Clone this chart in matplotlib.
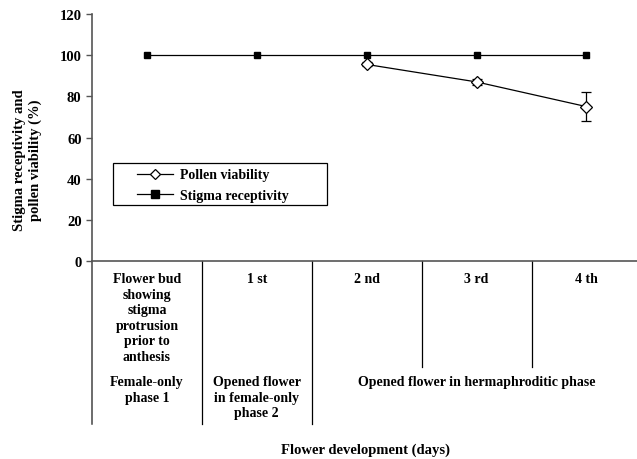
import numpy as np
import matplotlib
matplotlib.use("Agg")
import matplotlib.pyplot as plt
from matplotlib.lines import Line2D
from matplotlib.patches import Rectangle

plt.rcParams['font.family'] = ['Liberation Serif', 'DejaVu Serif']
plt.rcParams['font.weight'] = 'bold'

# data
stages = np.arange(5)
stigma = [100, 100, 100, 100, 100]
pollen = [np.nan, np.nan, 95.5, 87, 75]
pollen_err = [0, 0, 1, 1.5, 7]
yticks = [0, 20, 40, 60, 80, 100, 120]

day_labels = ['Flower bud\nshowing\nstigma\nprotrusion\nprior to\nanthesis',
              '1 st', '2 nd', '3 rd', '4 th']
phase_labels = ['Female-only\nphase 1', 'Opened flower\nin female-only\nphase 2',
                'Opened flower in hermaphroditic phase']

fig = plt.figure(figsize=(6.37, 4.6), dpi=100)
ax = fig.add_axes([0.1444, 0.4304, 0.8556, 0.537])

ax.errorbar(stages, pollen, yerr=pollen_err, color='black', lw=0.9,
            marker='D', ms=6.5, mfc='white', mec='black', mew=0.9,
            capsize=3.5, elinewidth=0.9, zorder=3)
ax.plot(stages, stigma, color='black', lw=0.9, marker='s', ms=5, zorder=2)

ax.set_xlim(-0.5, 4.46)
ax.set_ylim(0, 120)
ax.set_yticks(yticks)
ax.set_xticks([])
ax.tick_params(axis='y', direction='out', length=4, width=1, color='#555555',
               labelsize=10.5)
for lab in ax.get_yticklabels():
    lab.set_fontweight('bold')
for s in ['top', 'right']:
    ax.spines[s].set_visible(False)
for s in ['left', 'bottom']:
    ax.spines[s].set_color('#555555')
    ax.spines[s].set_linewidth(1.2)

# table under the axis
px = 120 / 247.0
ax.plot([-0.5, -0.5], [0, -163 * px], color='#444444', lw=1.1, clip_on=False)
for b in [0.5, 1.5]:
    ax.plot([b, b], [0, -163 * px], color='black', lw=0.9, clip_on=False)
for b in [2.5, 3.5]:
    ax.plot([b, b], [0, -106 * px], color='black', lw=0.9, clip_on=False)

fs = 10
for i, t in enumerate(day_labels):
    ax.text(i, -11 * px, t, ha='center', va='top', fontsize=fs,
            fontweight='bold', linespacing=1.25, clip_on=False)
ax.text(0, -114 * px, phase_labels[0], ha='center', va='top', fontsize=fs,
        fontweight='bold', linespacing=1.25)
ax.text(1, -114 * px, phase_labels[1], ha='center', va='top', fontsize=fs,
        fontweight='bold', linespacing=1.25)
ax.text(3.0, -114 * px, phase_labels[2], ha='center', va='top', fontsize=fs,
        fontweight='bold')

fig.text(0.573, 1 - 450 / 460, 'Flower development (days)', ha='center',
         va='center', fontsize=10.5, fontweight='bold')
fig.text(0.043, 1 - 160 / 460, 'Stigma receptivity and\npollen viability (%)',
         rotation=90, ha='center', va='center', fontsize=10.5,
         fontweight='bold', linespacing=1.25)

# legend with a plain rectangular box
ax.add_patch(Rectangle((0.0385, 0.227), 0.393, 0.170, transform=ax.transAxes,
                       fill=False, edgecolor='black', lw=0.9, clip_on=False))
handles = [
    Line2D([], [], color='black', lw=0.9, marker='D', ms=5.5, mfc='white',
           mec='black', mew=0.9),
    Line2D([], [], color='black', lw=0.9, marker='s', ms=6),
]
leg = ax.legend(handles, ['Pollen viability', 'Stigma receptivity'],
                loc='upper left', bbox_to_anchor=(0.083, 0.375),
                frameon=False, fontsize=10, handlelength=2.6,
                handletextpad=0.5, borderpad=0, labelspacing=0.55,
                borderaxespad=0)
for t in leg.get_texts():
    t.set_fontweight('bold')

fig.savefig('out.png', dpi=100)
